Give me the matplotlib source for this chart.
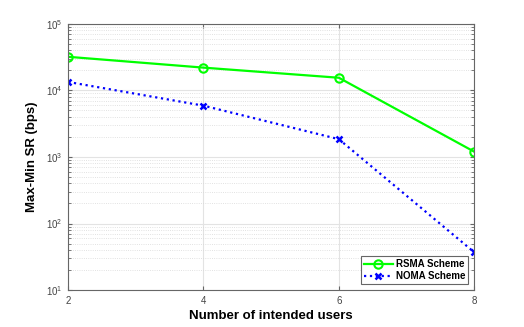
import numpy as np
import matplotlib
matplotlib.use('Agg')
import matplotlib.pyplot as plt
from matplotlib.ticker import LogLocator, NullFormatter

plt.rcParams['font.family'] = ['Liberation Sans', 'DejaVu Sans']
plt.rcParams['mathtext.fontset'] = 'custom'
plt.rcParams['mathtext.rm'] = 'Liberation Sans'

users = [2, 4, 6, 8]
rsma = [3.2e4, 2.2e4, 1.55e4, 1.2e3]
noma = [1.34e4, 5.9e3, 1.85e3, 37]

fig = plt.figure(figsize=(5.24, 3.27), dpi=100)
ax = fig.add_axes([0.130, 0.113, 0.775, 0.814])

ax.plot(users, rsma, color='#00ff00', lw=1.6, marker='o', ms=6, mfc='none',
        mew=1.5, label='RSMA Scheme')
ax.plot(users, noma, color='#0000ff', lw=1.6, ls=':', marker='x', ms=5,
        mew=1.8, label='NOMA Scheme')

ax.set_yscale('log')
ax.set_xlim(2, 8)
ax.set_ylim(10, 1e5)
ax.set_xticks(users)
ax.yaxis.set_minor_locator(LogLocator(base=10, subs=np.arange(2, 10)))
ax.yaxis.set_minor_formatter(NullFormatter())

ax.grid(True, which='major', color='#e3e3e3', lw=0.8, ls='-')
ax.grid(True, which='minor', color='#d8d8d8', lw=0.6, ls=':')
ax.set_axisbelow(True)

for s in ax.spines.values():
    s.set_color('#666666')
    s.set_linewidth(0.8)
ax.tick_params(which='both', direction='in', colors='#666666', labelsize=7,
               top=True, right=True, labelcolor='#444444')
ax.tick_params(which='major', length=3, pad=4)
ax.tick_params(which='minor', length=2)

ax.set_xlabel('Number of intended users', fontsize=9.5, fontweight='bold', labelpad=3)
ax.set_ylabel('Max-Min SR (bps)', fontsize=9.5, fontweight='bold', labelpad=6)

leg = ax.legend(loc='lower right', prop={'weight': 'bold', 'size': 7},
                fancybox=False, edgecolor='#666666', framealpha=1,
                handlelength=3.0, borderpad=0.3, labelspacing=0.2,
                handletextpad=0.3, borderaxespad=0.6)
leg.get_frame().set_linewidth(0.8)

fig.savefig('out.png', dpi=100)
